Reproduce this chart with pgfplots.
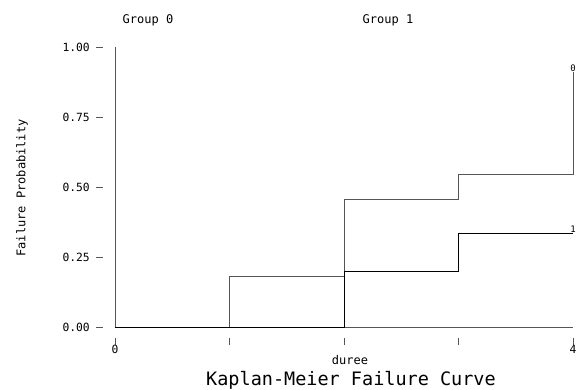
\documentclass[border=0pt]{standalone}
\usepackage{pgfplots}
\pgfplotsset{compat=1.18}
\usepackage{fontspec}
\setmainfont{DejaVu Sans Mono}
\definecolor{axgray}{HTML}{555555}
\begin{document}
\begin{tikzpicture}[x=1pt,y=1pt]
\path[use as bounding box] (0,0) rectangle (578,389);
\begin{axis}[
  at={(115pt,62pt)}, anchor=origin,
  scale only axis, width=458pt, height=280pt,
  xmin=0, xmax=4, ymin=0, ymax=1,
  hide axis, clip=false,
]
% axes
\draw[axgray, line width=0.8pt] (axis cs:0,1) -- (axis cs:0,0) -- (axis cs:4,0);
% series
\addplot[const plot, axgray, line width=0.8pt] coordinates {(0,0) (1,0.1818) (2,0.4545) (3,0.5455) (4,0.9091)};
\addplot[const plot, black, line width=0.8pt] coordinates {(0,0) (2,0.2) (3,0.3333) (4,0.3333)};
\node[anchor=south, inner sep=0.5pt, font=\fontsize{9}{10}\selectfont] at (axis cs:4,0.9091) {0};
\node[anchor=south, inner sep=0.5pt, font=\fontsize{9}{10}\selectfont] at (axis cs:4,0.3333) {1};
\end{axis}
% y ticks
\foreach \v/\l in {0/0.00, 0.25/0.25, 0.5/0.50, 0.75/0.75, 1/1.00} {
  \draw[axgray, line width=0.7pt] (96,62+280*\v) -- (103,62+280*\v);
  \node[anchor=east, inner sep=0pt, font=\fontsize{11.3}{12}\selectfont] at (90,62+280*\v) {\l};
}
% x ticks
\foreach \i in {0,1,2,3,4} {
  \draw[axgray, line width=0.7pt] (115+114.5*\i,44) -- (115+114.5*\i,51);
}
\node[anchor=north, inner sep=0pt, font=\fontsize{11.3}{12}\selectfont] at (115,44) {0};
\node[anchor=north, inner sep=0pt, font=\fontsize{11.3}{12}\selectfont] at (573,44) {4};
\node[rotate=90, font=\fontsize{12}{13}\selectfont] at (22,201) {Failure Probability};
\node[font=\fontsize{12}{13}\selectfont] at (350,29) {duree};
\node[font=\fontsize{18.5}{20}\selectfont] at (351,9) {Kaplan-Meier Failure Curve};
\node[font=\fontsize{12}{13}\selectfont] at (148,369) {Group 0};
\node[font=\fontsize{12}{13}\selectfont] at (388,369) {Group 1};
\end{tikzpicture}
\end{document}
